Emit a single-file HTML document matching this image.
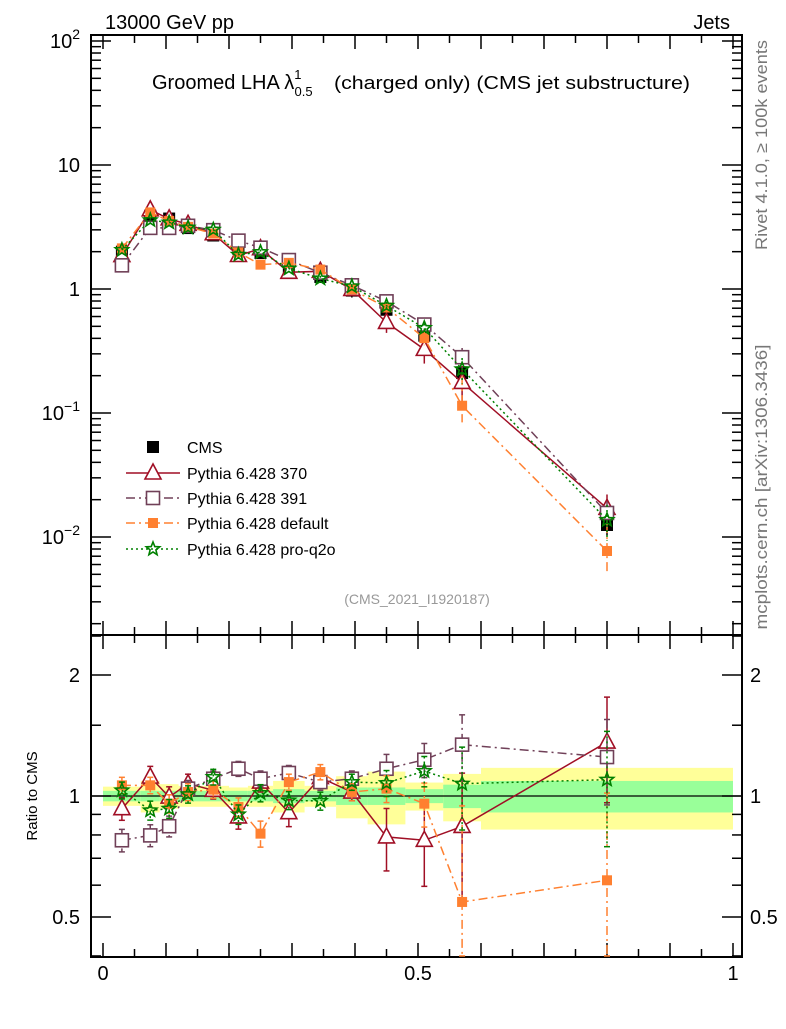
<!DOCTYPE html>
<html><head><meta charset="utf-8"><style>
body{margin:0;background:#fff;}
svg text{font-family:"Liberation Sans",sans-serif;}
</style></head><body>
<svg id="c" width="786" height="1024" xmlns="http://www.w3.org/2000/svg"></svg>
<script>
const xCenters=[0.03,0.075,0.105,0.135,0.175,0.215,0.25,0.295,0.345,0.395,0.45,0.51,0.57,0.8];
const binEdges=[0,0.06,0.09,0.12,0.15,0.2,0.23,0.27,0.32,0.37,0.42,0.48,0.54,0.6,1.0];
const cmsVals=[2.0,3.9,3.7,3.1,2.7,2.1,1.95,1.5,1.25,0.97,0.68,0.42,0.21,0.0125];
const bandYellow=[0.055,0.09,0.07,0.06,0.06,0.05,0.06,0.09,0.06,0.12,0.15,0.08,0.135,0.175];
const bandGreen=[0.03,0.03,0.03,0.03,0.03,0.03,0.03,0.04,0.03,0.05,0.05,0.04,0.067,0.09];
const ratio370=[0.93,1.115,0.994,1.073,1.033,0.887,1.083,0.909,1.111,1.023,0.791,0.776,0.84,1.362];
const err370=[0.06,0.07,0.06,0.06,0.05,0.06,0.06,0.07,0.05,0.05,0.14,0.18,0.3,0.4];
const ratio391=[0.776,0.798,0.841,1.043,1.104,1.169,1.104,1.141,1.083,1.104,1.169,1.231,1.342,1.25];
const err391=[0.05,0.05,0.05,0.05,0.05,0.05,0.05,0.05,0.05,0.05,0.1,0.12,0.25,0.3];
const ratioDef=[1.063,1.063,0.957,1.023,1.037,0.939,0.806,1.083,1.147,1.023,1.043,0.957,0.545,0.617];
const errDef=[0.05,0.05,0.05,0.05,0.05,0.05,0.06,0.05,0.05,0.05,0.08,0.12,0.4,0.4];
const ratioQ2o=[1.033,0.921,0.93,1.01,1.115,0.9,1.017,0.975,0.972,1.083,1.077,1.154,1.073,1.098];
const errQ2o=[0.05,0.05,0.05,0.05,0.05,0.05,0.05,0.05,0.05,0.05,0.08,0.1,0.25,0.35];
const mainTicks=["10^2","10","1","10^-1","10^-2"];
const ratioTicks=[2,1,0.5];
const xTicks=[0,0.5,1];

const S=document.getElementById('c');const NS="http://www.w3.org/2000/svg";
function mk(t,a,p){const e=document.createElementNS(NS,t);for(const k in a)e.setAttribute(k,a[k]);(p||S).appendChild(e);return e;}
const L=91,R=742,T=35,D=635,B=957;
const X=v=>103+630*v;
const Y=v=>289-124*Math.log10(v);
const YR=v=>796-121*Math.log2(v);

for(let i=0;i<xCenters.length;i++){
 const x0=X(binEdges[i]),x1=X(binEdges[i+1]);
 let r=mk('rect',{x:x0,y:YR(1+bandYellow[i]),width:x1-x0,height:YR(1-bandYellow[i])-YR(1+bandYellow[i]),fill:'#ffff99'});
 
 r=mk('rect',{x:x0,y:YR(1+bandGreen[i]),width:x1-x0,height:YR(1-bandGreen[i])-YR(1+bandGreen[i]),fill:'#99ff99'});
 
}
mk('line',{x1:L,x2:R,y1:YR(1),y2:YR(1),stroke:'#000','stroke-width':1.3});

mk('rect',{x:L,y:T,width:R-L,height:D-T,fill:'none',stroke:'#000','stroke-width':2});
mk('rect',{x:L,y:D,width:R-L,height:B-D,fill:'none',stroke:'#000','stroke-width':2});

for(let k=0;k<=20;k++){const v=k*0.05,x=X(v),len=(k%2==0)?14:8;
 [[T,T+len],[D,D-len],[D,D+len],[B,B-len]].forEach(p=>mk('line',{x1:x,x2:x,y1:p[0],y2:p[1],stroke:'#000','stroke-width':1.5}));}
xTicks.forEach(v=>{const t=mk('text',{x:X(v),y:980,'font-size':20,'text-anchor':'middle'});t.textContent=String(v);});

for(let d=-3;d<=2;d++){for(let m=1;m<10;m++){const v=m*Math.pow(10,d),y=Y(v);if(y<T||y>D)continue;const len=m==1?20:10;
 mk('line',{x1:L,x2:L+len,y1:y,y2:y,stroke:'#000','stroke-width':1.5});mk('line',{x1:R,x2:R-len,y1:y,y2:y,stroke:'#000','stroke-width':1.5});}}
const mainPos=[100,10,1,0.1,0.01];
mainTicks.forEach((s,i)=>{const y=Y(mainPos[i])+7;const t=mk('text',{x:80,y:y,'font-size':20,'text-anchor':'end'});
 
 if(s.includes('^')){const [b,e]=s.split('^');t.textContent=b;const ts=mk('tspan',{dy:-9,'font-size':14},t);ts.textContent=e.replace('-','−');}else t.textContent=s;});

[0.4,0.5,0.6,0.7,0.8,0.9,1,1.5,2,2.5].forEach(v=>{const y=YR(v);if(y<D||y>B)return;const len=(v==0.5||v==1||v==2)?20:10;
 mk('line',{x1:L,x2:L+len,y1:y,y2:y,stroke:'#000','stroke-width':1.5});mk('line',{x1:R,x2:R-len,y1:y,y2:y,stroke:'#000','stroke-width':1.5});});
ratioTicks.forEach(v=>{const y=YR(v)+7;
 let t=mk('text',{x:80,y:y,'font-size':20,'text-anchor':'end'});t.textContent=String(v);
 t=mk('text',{x:750,y:y,'font-size':20});t.textContent=String(v);});
let rt=mk('text',{x:0,y:0,'font-size':15,'text-anchor':'middle',transform:'translate(37,796) rotate(-90)'});rt.textContent='Ratio to CMS';

function marker(kind,x,y,col,g){
 if(kind=='tri')mk('polygon',{points:`${x},${y-9} ${x-8},${y+6} ${x+8},${y+6}`,fill:'#fff',stroke:col,'stroke-width':1.6},g);
 else if(kind=='osq')mk('rect',{x:x-6.5,y:y-6.5,width:13,height:13,fill:'#fff',stroke:col,'stroke-width':1.6},g);
 else if(kind=='fsq')mk('rect',{x:x-5,y:y-5,width:10,height:10,fill:col},g);
 else if(kind=='bsq')mk('rect',{x:x-6,y:y-6,width:12,height:12,fill:col},g);
 else if(kind=='star'){let p=[];for(let k=0;k<10;k++){const r=k%2?3:7,a=-Math.PI/2+k*Math.PI/5;p.push((x+r*Math.cos(a)).toFixed(1)+','+(y+r*Math.sin(a)).toFixed(1));}
  mk('polygon',{points:p.join(' '),fill:'none',stroke:col,'stroke-width':1.6},g);}
}
const series=[
 {n:'pythia-370',r:ratio370,e:err370,c:'#a00f25',d:'',k:'tri',label:'Pythia 6.428 370'},
 {n:'pythia-391',r:ratio391,e:err391,c:'#704058',d:'9,4,2,4',k:'osq',label:'Pythia 6.428 391'},
 {n:'pythia-default',r:ratioDef,e:errDef,c:'#ff8030',d:'9,4,2,4',k:'fsq',label:'Pythia 6.428 default'},
 {n:'pythia-pro-q2o',r:ratioQ2o,e:errQ2o,c:'#008000',d:'2,3',k:'star',label:'Pythia 6.428 pro-q2o'}];

const gc=mk('g',{});
cmsVals.forEach((v,i)=>{const x=X(xCenters[i]);mk('line',{x1:x,x2:x,y1:Y(v*(1+bandYellow[i])),y2:Y(v*(1-bandYellow[i])),stroke:'#000','stroke-width':1.5},gc);marker('bsq',x,Y(v),'#000',gc);});

series.forEach(s=>{
 const g=mk('g',{});
 const gr=mk('g',{});
 const pm=[],pr=[];
 s.r.forEach((r,i)=>{const x=X(xCenters[i]),v=cmsVals[i]*r;pm.push(x+','+Y(v));pr.push(x+','+YR(r));});
 mk('polyline',{points:pm.join(' '),fill:'none',stroke:s.c,'stroke-width':1.5,'stroke-dasharray':s.d},g);
 mk('polyline',{points:pr.join(' '),fill:'none',stroke:s.c,'stroke-width':1.5,'stroke-dasharray':s.d},gr);
 s.r.forEach((r,i)=>{const x=X(xCenters[i]),v=cmsVals[i]*r;
  const lo=Math.max(r-s.e[i],0.4),hi=r+s.e[i];
  mk('line',{x1:x,x2:x,y1:Y(v*hi/r),y2:Y(v*lo/r),stroke:s.c,'stroke-width':1.5,'stroke-dasharray':s.d},g);
  mk('line',{x1:x,x2:x,y1:YR(hi),y2:Math.min(YR(lo),B),stroke:s.c,'stroke-width':1.5,'stroke-dasharray':s.d},gr);
  [YR(hi),YR(lo)].forEach(yy=>{if(yy<B)mk('line',{x1:x-3,x2:x+3,y1:yy,y2:yy,stroke:s.c,'stroke-width':1.5},gr);});
  marker(s.k,x,Y(v),s.c,g);marker(s.k,x,YR(r),s.c,gr);});
});

const ly=[447,473,498,523,549];
const lg=mk('g',{});
marker('bsq',153,ly[0],'#000',lg);
let t=mk('text',{x:187,y:ly[0]+6,'font-size':16},lg);t.textContent='CMS';
series.forEach((s,i)=>{const y=ly[i+1];mk('line',{x1:126,x2:180,y1:y,y2:y,stroke:s.c,'stroke-width':1.5,'stroke-dasharray':s.d},lg);marker(s.k,153,y,s.c,lg);
 const tt=mk('text',{x:187,y:y+6,'font-size':16},lg);tt.textContent=s.label;});
</script>
<svg width="786" height="1024" style="position:absolute;left:0;top:0" xmlns="http://www.w3.org/2000/svg">
<text x="105" y="29" font-size="20" font-family="Liberation Sans,sans-serif">13000 GeV pp</text>
<text x="730" y="29" font-size="20" text-anchor="end" font-family="Liberation Sans,sans-serif">Jets</text>
<text x="152" y="89" font-size="20" font-family="Liberation Sans,sans-serif">Groomed LHA λ<tspan dy="-10" font-size="13">1</tspan><tspan dy="17" dx="-7" font-size="13">0.5</tspan></text>
<text x="334" y="89" font-size="18" font-family="Liberation Sans,sans-serif" textLength="356" lengthAdjust="spacingAndGlyphs">(charged only) (CMS jet substructure)</text>
<text x="417" y="604" font-size="14" fill="#999" text-anchor="middle" font-family="Liberation Sans,sans-serif">(CMS_2021_I1920187)</text>
<text transform="translate(767,145) rotate(-90)" font-size="17" fill="#777" text-anchor="middle" font-family="Liberation Sans,sans-serif" textLength="210" lengthAdjust="spacingAndGlyphs">Rivet 4.1.0, ≥ 100k events</text>
<text transform="translate(767,487) rotate(-90)" font-size="17" fill="#777" text-anchor="middle" font-family="Liberation Sans,sans-serif" textLength="285" lengthAdjust="spacingAndGlyphs">mcplots.cern.ch [arXiv:1306.3436]</text>
</svg>
</body></html>
